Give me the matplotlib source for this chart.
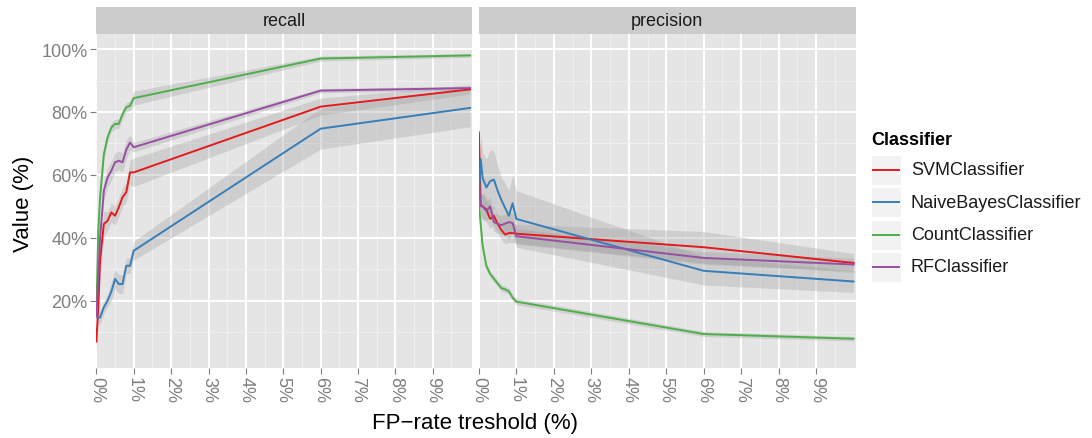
"""
Recall / precision vs FP-rate threshold, faceted ggplot-style chart.
"""

import numpy as np
import matplotlib
matplotlib.use("Agg")
import matplotlib.pyplot as plt
from matplotlib.patches import Rectangle
from matplotlib.ticker import FixedLocator

plt.rcParams['font.family'] = ['Liberation Sans', 'DejaVu Sans']

# FP-rate thresholds (%)
fp_rate = [0, 0.05, 0.1, 0.2, 0.3, 0.4, 0.5, 0.6, 0.7, 0.8, 0.9, 1.0, 6, 10]

classifiers = ["SVMClassifier", "NaiveBayesClassifier", "CountClassifier", "RFClassifier"]
colors = ["#E41A1C", "#377EB8", "#4DAF4A", "#984EA3"]
facets = ["recall", "precision"]

# recall (%) and half-width of the grey band
svm_recall = [7, 18, 33, 44.4, 45.4, 48.1, 47, 49.7, 52.9, 54.5, 60.8, 60.8, 81.7, 87.2]
nb_recall = [15.2, 14.5, 14.7, 17.9, 20, 22.9, 26.9, 25.3, 25.3, 31.1, 31.1, 35.9, 74.7, 81.3]
count_recall = [16, 42, 53, 66.6, 72, 75.1, 76.2, 76.2, 79.3, 81.5, 82, 84.4, 97.0, 98.0]
rf_recall = [15, 28, 40, 55, 59.2, 61.3, 64, 64.5, 64, 68, 70.3, 68.8, 86.8, 87.6]

svm_recall_se = [3, 5, 5, 4, 3, 3, 3, 3, 3, 3, 4, 4.5, 2.7, 1.5]
nb_recall_se = [2, 2, 2, 2, 2, 3, 3, 3, 3, 2.5, 2.5, 3, 6.5, 6]
count_recall_se = [2, 3, 3, 2, 1.5, 1.5, 1.5, 1.5, 1.5, 1.5, 1.5, 2.2, 0.8, 0.6]
rf_recall_se = [2, 4, 4, 3, 3, 3, 3, 3, 3, 3, 2.5, 1.5, 0.7, 0.6]

# precision (%) and half-width of the grey band
svm_precision = [73.5, 50.5, 50, 49, 46, 47, 44.5, 42.5, 41, 41.5, 41.5, 41.3, 37, 32]
nb_precision = [52, 65, 59, 56, 58, 58.5, 55, 52, 49.5, 47, 51, 46, 29.5, 26.1]
count_precision = [51, 44, 37.5, 31, 28.5, 27, 25.5, 24, 23.6, 23, 21, 19.7, 9.4, 7.9]
rf_precision = [57, 50, 50, 48.5, 50, 45, 44.5, 44, 44.5, 45, 44.7, 40.5, 33.6, 31.5]

svm_precision_se = [4, 3, 4, 4, 3, 3, 3, 3, 3, 3, 3, 3, 5, 3]
nb_precision_se = [6, 8, 8, 9, 10, 9, 8, 7, 8, 8, 9, 9, 4.5, 3.5]
count_precision_se = [2, 2, 1.5, 1, 1, 1, 1, 1, 1, 1, 1, 1, 0.8, 0.7]
rf_precision_se = [4, 4, 4, 3, 3, 3, 3, 3, 3, 3, 3, 2.5, 2, 2]

y_breaks = [20, 40, 60, 80, 100]
x_breaks = list(range(10))

W, H = 1092, 439


def px_rect(x0, y0, x1, y1):
    return [x0 / W, 1 - y1 / H, (x1 - x0) / W, (y1 - y0) / H]


panel_data = {
    "recall": (
        [svm_recall, nb_recall, count_recall, rf_recall],
        [svm_recall_se, nb_recall_se, count_recall_se, rf_recall_se],
    ),
    "precision": (
        [svm_precision, nb_precision, count_precision, rf_precision],
        [svm_precision_se, nb_precision_se, count_precision_se, rf_precision_se],
    ),
}

fig = plt.figure(figsize=(W / 100, H / 100), dpi=100)
panels = {"recall": (96, 472), "precision": (478.5, 855.5)}
top, bottom = 35, 369

for i, name in enumerate(facets):
    x0, x1 = panels[name]
    ax = fig.add_axes(px_rect(x0, top, x1, bottom))
    ax.set_facecolor("#E5E5E5")
    for s in ax.spines.values():
        s.set_visible(False)

    values, ses = panel_data[name]
    x = np.array(fp_rate)
    for vals, se in zip(values, ses):
        v = np.array(vals); e = np.array(se)
        ax.fill_between(x, v - e, v + e, color="#999999", alpha=0.3, lw=0, zorder=2)
    for vals, c in zip(values, colors):
        ax.plot(x, vals, color=c, lw=1.4, zorder=3, solid_joinstyle="round")

    ax.set_xlim(-0.01, 10.05)
    ax.set_ylim(-1.4, 104.8)
    ax.xaxis.set_major_locator(FixedLocator(x_breaks))
    ax.xaxis.set_minor_locator(FixedLocator([b + 0.5 for b in x_breaks]))
    ax.yaxis.set_major_locator(FixedLocator(y_breaks))
    ax.yaxis.set_minor_locator(FixedLocator([b - 10 for b in y_breaks]))
    ax.grid(which="major", color="white", lw=1.4, zorder=1)
    ax.grid(which="minor", color="#F2F2F2", lw=0.6, zorder=1)
    ax.set_axisbelow(True)

    ax.set_xticklabels([f"{b}%" for b in x_breaks], rotation=-90)
    ax.tick_params(axis="x", which="major", length=4, color="#7F7F7F",
                   labelcolor="#7F7F7F", labelsize=13, pad=2)
    ax.tick_params(which="minor", length=0)
    if i == 0:
        ax.set_yticklabels([f"{b}%" for b in y_breaks])
        ax.tick_params(axis="y", which="major", length=4, color="#7F7F7F",
                       labelcolor="#7F7F7F", labelsize=13, pad=2)
    else:
        ax.tick_params(axis="y", which="major", length=0, labelleft=False)

    # facet strip
    sax = fig.add_axes(px_rect(x0, 8, x1, top))
    sax.set_facecolor("#CCCCCC")
    sax.set_xticks([]); sax.set_yticks([])
    for s in sax.spines.values():
        s.set_visible(False)
    sax.text(0.5, 0.5, name, ha="center", va="center", fontsize=13,
             color="#1A1A1A", transform=sax.transAxes)

fig.text(475.5 / W, 1 - 424 / H, "FP\u2212rate treshold (%)", ha="center",
         va="center", fontsize=16)
fig.text(23 / W, 1 - 204 / H, "Value (%)", ha="center", va="center",
         rotation=90, fontsize=16)

# legend, drawn in pixel coordinates
lax = fig.add_axes([0, 0, 1, 1], facecolor="none")
lax.set_xlim(0, W); lax.set_ylim(H, 0)
lax.axis("off")
lax.text(871, 141, "Classifier", fontsize=13, fontweight="bold",
         ha="left", va="center")
row_y = [171, 203.3, 235.6, 268]
for yc, name, c in zip(row_y, classifiers, colors):
    lax.add_patch(Rectangle((871, yc - 15), 30, 30, facecolor="#F2F2F2",
                            edgecolor="white", lw=0.8))
    lax.plot([873, 899], [yc, yc], color=c, lw=1.4)
    lax.text(911, yc, name, fontsize=13, ha="left", va="center", color="#1A1A1A")

fig.savefig("out.png", dpi=100)
